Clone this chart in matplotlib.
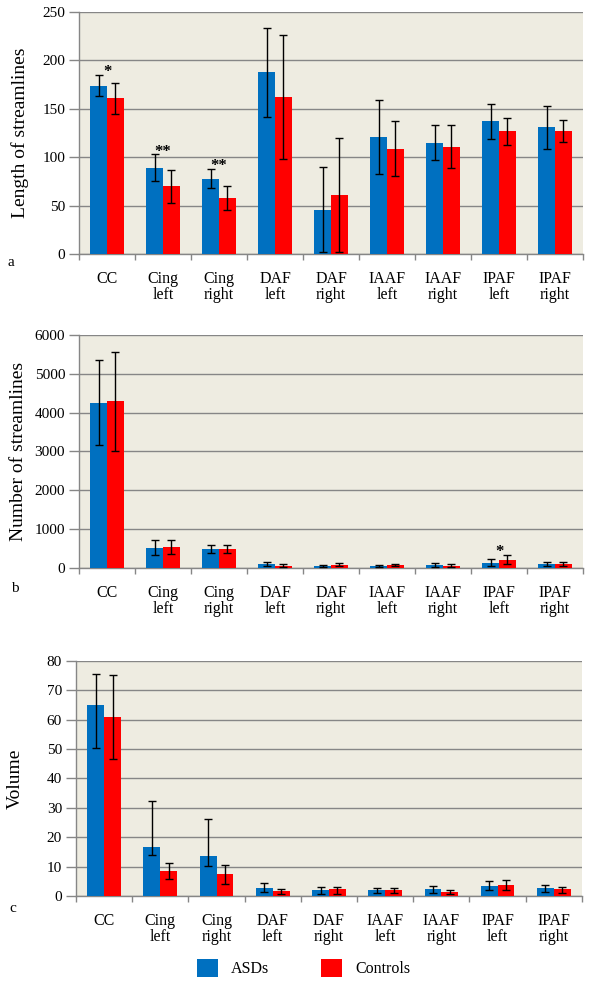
import matplotlib.pyplot as plt
import numpy as np
from matplotlib.patches import Patch

plt.rcParams['font.family'] = ['Liberation Serif', 'DejaVu Serif']

# tract labels
tracts = ['CC', 'Cing\nleft', 'Cing\nright', 'DAF\nleft', 'DAF\nright',
          'IAAF\nleft', 'IAAF\nright', 'IPAF\nleft', 'IPAF\nright']

# (a) length of streamlines
len_asd = [174, 89, 78, 188, 46, 121, 115, 137, 131]
len_asd_err = [11, 14, 10, 46, 44, 38, 18, 18, 22]
len_ctl = [161, 70, 58, 162, 61, 109, 111, 127, 127]
len_ctl_err = [16, 17, 12, 64, 59, 28, 22, 14, 11]
len_stars = ['*', '**', '**', '', '', '', '', '', '']

# (b) number of streamlines
num_asd = [4260, 520, 495, 110, 50, 50, 85, 135, 110]
num_asd_err = [1100, 190, 100, 55, 30, 30, 55, 85, 50]
num_ctl = [4290, 545, 495, 60, 85, 75, 60, 215, 110]
num_ctl_err = [1270, 180, 100, 45, 40, 25, 30, 125, 50]
num_stars = ['', '', '', '', '', '', '', '*', '']

# (c) volume (some bars have asymmetric error)
vol_asd = [64.9, 16.7, 13.7, 2.8, 1.9, 1.9, 2.3, 3.5, 2.6]
vol_asd_lo = [14.4, 2.8, 3.5, 1.5, 1.3, 0.9, 1.2, 1.6, 1.3]
vol_asd_hi = [10.8, 15.8, 12.4, 1.5, 1.3, 0.9, 1.2, 1.5, 1.2]
vol_ctl = [60.9, 8.6, 7.6, 1.8, 2.3, 1.9, 1.5, 3.8, 2.3]
vol_ctl_lo = [14.3, 2.8, 3.5, 1.1, 1.6, 1.0, 0.8, 1.8, 1.2]
vol_ctl_hi = [14.2, 2.6, 2.9, 0.7, 0.9, 0.8, 0.6, 1.7, 0.8]

blue = '#0070C0'
red = '#FF0000'
bg = '#EEECE1'
grey = '#868686'

fig = plt.figure(figsize=(5.95, 9.85), dpi=100)
ax_a = fig.add_axes([0.1328, 0.7421, 0.8472, 0.2457])
ax_b = fig.add_axes([0.1328, 0.4234, 0.8472, 0.2365])
ax_c = fig.add_axes([0.1277, 0.0904, 0.8503, 0.2385])

x = np.arange(len(tracts))
w = 0.3


def draw(ax, asd, asd_err, ctl, ctl_err, ymax, step, ylabel, labx):
    ax.set_facecolor(bg)
    ax.bar(x - w / 2, asd, w, color=blue, zorder=3)
    ax.bar(x + w / 2, ctl, w, color=red, zorder=3)
    ax.errorbar(x - w / 2, asd, yerr=asd_err, fmt='none', ecolor='black',
                elinewidth=1, capsize=3, capthick=1, zorder=4)
    ax.errorbar(x + w / 2, ctl, yerr=ctl_err, fmt='none', ecolor='black',
                elinewidth=1, capsize=3, capthick=1, zorder=4)
    ax.set_xlim(-0.5, len(tracts) - 0.5)
    ax.set_ylim(0, ymax)
    ax.set_yticks(np.arange(0, ymax + 1, step))
    ax.yaxis.grid(True, color=grey, linewidth=1)
    ax.set_axisbelow(True)
    ax.set_xticks(x)
    ax.set_xticklabels(tracts, fontsize=11.5, linespacing=1.0)
    ax.set_xticks(np.arange(-0.5, len(tracts), 1), minor=True)
    ax.tick_params(axis='x', which='major', length=0, pad=12)
    ax.tick_params(axis='x', which='minor', length=4, color=grey, width=1)
    ax.tick_params(axis='y', length=7, color=grey, width=1, labelsize=11, pad=3)
    for s in ['top', 'right']:
        ax.spines[s].set_visible(False)
    for s in ['left', 'bottom']:
        ax.spines[s].set_color(grey)
        ax.spines[s].set_linewidth(1)
    ax.set_ylabel(ylabel, fontsize=14)
    ax.yaxis.label.set_va('center')
    ax.yaxis.set_label_coords(labx, 0.5)


draw(ax_a, len_asd, len_asd_err, len_ctl, len_ctl_err, 250, 50,
     'Length of streamlines', -0.116)
draw(ax_b, num_asd, num_asd_err, num_ctl, num_ctl_err, 6000, 1000,
     'Number of streamlines', -0.12)
draw(ax_c, vol_asd, [vol_asd_lo, vol_asd_hi], vol_ctl, [vol_ctl_lo, vol_ctl_hi],
     80, 10, 'Volume', -0.12)

# significance stars just above the error bar of the marked pair
for ax, s_list, tops in [
        (ax_a, len_stars, np.add(len_asd, len_asd_err)),
        (ax_b, num_stars, np.maximum(np.add(num_asd, num_asd_err), np.add(num_ctl, num_ctl_err)))]:
    for i, s in enumerate(s_list):
        if s:
            ax.annotate(s, (i, tops[i]), xytext=(0, -1), textcoords='offset points',
                        ha='center', va='baseline', fontsize=12, fontweight='bold', zorder=5)

fig.text(0.013, 1 - 263 / 985, 'a', fontsize=11, va='center')
fig.text(0.018, 1 - 588 / 985, 'b', fontsize=11, va='center')
fig.text(0.015, 1 - 908 / 985, 'c', fontsize=11, va='center')

handles = [Patch(facecolor=blue, label='ASDs'), Patch(facecolor=red, label='Controls')]
fig.legend(handles=handles, loc='center', bbox_to_anchor=(0.51, 0.017), ncol=2,
           frameon=False, fontsize=11.5, handlelength=1.3, handleheight=1.3,
           handletextpad=0.8, columnspacing=3.3)

fig.savefig('out.png', dpi=100)
